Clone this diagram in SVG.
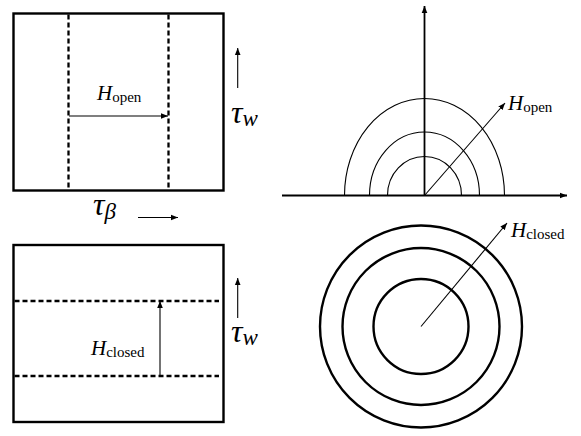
<svg xmlns="http://www.w3.org/2000/svg" width="581" height="436" viewBox="0 0 581 436">
<defs>
<marker id="ah" markerUnits="userSpaceOnUse" markerWidth="8" markerHeight="7" refX="7" refY="3.5" orient="auto">
<path d="M0,0.7 L7,3.5 L0,6.3 z" fill="#000"/>
</marker>
<style>
.box{fill:none;stroke:#000;stroke-width:2.4}
.dash{fill:none;stroke:#000;stroke-width:2.3;stroke-dasharray:5 3}
.arr{fill:none;stroke:#000;stroke-width:1.1;marker-end:url(#ah)}
.axis{fill:none;stroke:#000;stroke-width:1.8;marker-end:url(#ah)}
.arc{fill:none;stroke:#000;stroke-width:1.1}
.ring{fill:none;stroke:#000;stroke-width:2.4}
.H{font-family:"Liberation Serif",serif;font-style:italic;font-size:21px}
.sub{font-family:"Liberation Serif",serif;font-style:normal;font-size:15px}
.tau{font-family:"Liberation Serif",serif;font-style:italic;font-size:32px}
.tsub{font-family:"Liberation Serif",serif;font-style:italic;font-size:23px}
</style>
</defs>
<rect width="581" height="436" fill="#fff"/>
<g id="open-box">
<rect class="box" x="13.5" y="13.5" width="210" height="177"/>
<line class="dash" x1="68.5" y1="14.5" x2="68.5" y2="190"/>
<line class="dash" x1="168.5" y1="14.5" x2="168.5" y2="190"/>
<text class="H" x="97" y="100">H<tspan class="sub" dy="2">open</tspan></text>
</g>
<g id="closed-box">
<rect class="box" x="13.5" y="245" width="210" height="177"/>
<line class="dash" x1="14.5" y1="301" x2="219" y2="301"/>
<line class="dash" x1="14.5" y1="376" x2="219" y2="376"/>
<text class="H" x="91" y="355">H<tspan class="sub" dy="2">closed</tspan></text>
</g>
<g id="tau-labels">
<text class="tau" x="231" y="123">τ<tspan class="tsub" dy="3">w</tspan></text>
<text class="tau" x="231" y="342">τ<tspan class="tsub" dy="3">w</tspan></text>
<text class="tau" x="93" y="215">τ<tspan class="tsub" dy="4">β</tspan></text>
</g>
<g id="open-plot">
<path class="arc" d="M344.5,195.5 A80,97 0 0 1 504.5,195.5"/>
<path class="arc" d="M369.5,195.5 A55,63.5 0 0 1 479.5,195.5"/>
<path class="arc" d="M387.5,195.5 A37,39 0 0 1 461.5,195.5"/>
<text class="H" x="508" y="110">H<tspan class="sub" dy="2">open</tspan></text>
</g>
<g id="closed-plot">
<circle class="ring" cx="421" cy="326.5" r="101"/>
<circle class="ring" cx="421" cy="326.5" r="78.5"/>
<circle class="ring" cx="421" cy="326.5" r="47.5"/>
<text class="H" x="511" y="237">H<tspan class="sub" dy="2">closed</tspan></text>
</g>
<g id="connectors">
<line class="arr" x1="69" y1="116" x2="168" y2="116"/>
<line class="arr" x1="160" y1="376" x2="160" y2="301"/>
<line class="arr" x1="237.7" y1="88" x2="237.7" y2="48"/>
<line class="arr" x1="237.7" y1="318" x2="237.7" y2="278"/>
<line class="arr" x1="138" y1="217.5" x2="178" y2="217.5"/>
<line class="axis" x1="424.5" y1="195.5" x2="424.5" y2="6"/>
<line class="axis" x1="282" y1="195.5" x2="567" y2="195.5"/>
<line class="arr" x1="424.5" y1="195.5" x2="505" y2="103"/>
<line class="arr" x1="421" y1="326.5" x2="507" y2="223"/>
</g>
</svg>
